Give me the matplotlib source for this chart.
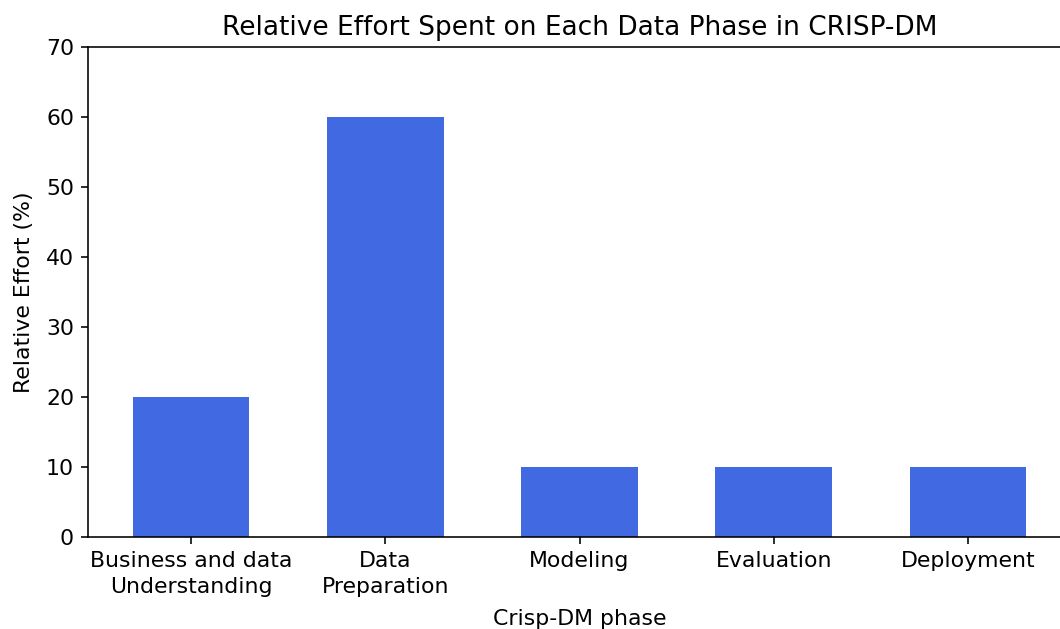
import matplotlib
matplotlib.use('Agg')
import matplotlib.pyplot as plt

# data
phases = ['Business and data\nUnderstanding', 'Data\nPreparation', 'Modeling', 'Evaluation', 'Deployment']
effort = [20, 60, 10, 10, 10]

plt.rcParams['font.size'] = 11

W, H, DPI = 1060, 629, 144
fig = plt.figure(figsize=(W / DPI, H / DPI), dpi=DPI)

# axes placed so the right edge runs slightly past the figure, like the cropped original
left, right, top, bottom = 88, 1071, 47, 537
ax = fig.add_axes([left / W, (H - bottom) / H, (right - left) / W, (bottom - top) / H])

x = range(len(phases))
ax.bar(x, effort, width=0.6, color='royalblue')
ax.set_xticks(list(x))
ax.set_xticklabels(phases, linespacing=1.4)
ax.set_ylim(0, 70)
ax.set_xlim(-0.53, 4.53)

ax.set_title('Relative Effort Spent on Each Data Phase in CRISP-DM')
ax.set_xlabel('Crisp-DM phase', labelpad=6)
ax.set_ylabel('Relative Effort (%)', labelpad=6)

fig.savefig('out.png', dpi=DPI)
